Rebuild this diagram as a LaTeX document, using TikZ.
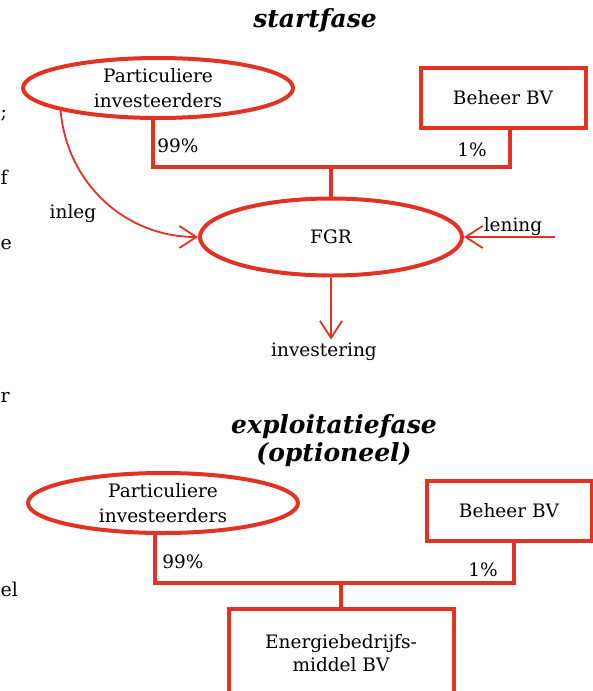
\documentclass[tikz,border=0pt]{standalone}
\usepackage{fontspec}
\setmainfont{DejaVu Serif}
\usetikzlibrary{positioning,arrows.meta,shapes.geometric}
\definecolor{chartred}{RGB}{225,50,35}

\begin{document}
\begin{tikzpicture}[
    x = 1pt, y = 1pt,
    > = {Straight Barb[length=17pt,width=22pt]},
    party/.style={ellipse, draw=chartred, line width=4pt, minimum width=270pt, minimum height=60pt, inner sep=0pt, align=center, font=\fontsize{18.5}{25}\selectfont},
    company/.style={rectangle, draw=chartred, line width=4pt, minimum width=165pt, minimum height=60pt, align=center, font=\fontsize{18.5}{23}\selectfont},
    share/.style={draw=chartred, line width=4pt},
    flow/.style={->, draw=chartred, line width=1.8pt},
    phase/.style={align=center, font=\fontsize{25}{28}\selectfont\bfseries\itshape},
    lbl/.style={font=\fontsize{18.5}{22}\selectfont},
    margintext/.style={anchor=west, inner sep=0pt, font=\fontsize{19}{22}\selectfont}
]
\clip (0,0) rectangle (593,-691);

% Start phase
\node[phase] (title1) at (315,-20) {startfase};
\node[party] (inv1) at (158,-88) {Particuliere\\investeerders};
\node[company] (beh1) at (503,-98) {Beheer BV};
\node[party, minimum width=262pt, minimum height=77pt] (fgr) at (331,-237) {FGR};
\node[lbl] (invest) at (324,-352) {investering};
\node[lbl] (inleg) at (73,-214) {inleg};
\coordinate (lensrc) at (555,-237);
\node[lbl] (lening) at (513,-227) {lening};

% Shares in the FGR
\coordinate (bar1) at (153,-167);
\coordinate (bar1e) at (510,-167);
\draw[share] (inv1.south -| bar1) |- (bar1e) -- (beh1.south -| bar1e);
\draw[share] (bar1 -| fgr) -- (fgr.north);
\node[lbl] (pct1a) at (178,-146) {99\%};
\node[lbl] (pct1b) at (472,-150) {1\%};

% Money flows
\draw[flow] (inv1.193) to[out=-85, in=180] (fgr.west);
\draw[flow] (lensrc) -- (fgr.east);
\draw[flow] (fgr.south) -- (fgr.south |- invest.north);

% Exploitation phase
\node[phase] (title2) at (334,-441) {exploitatiefase\\(optioneel)};
\node[party] (inv2) at (163,-503) {Particuliere\\investeerders};
\node[company] (beh2) at (509,-511) {Beheer BV};
\node[company, minimum width=225pt, minimum height=88pt] (enb) at (341,-653) {Energiebedrijfs-\\middel BV};

% Shares in the BV
\coordinate (bar2) at (155,-583);
\coordinate (bar2e) at (514,-583);
\draw[share] (inv2.south -| bar2) |- (bar2e) -- (beh2.south -| bar2e);
\draw[share] (bar2 -| enb) -- (enb.north);
\node[lbl] (pct2a) at (183,-562) {99\%};
\node[lbl] (pct2b) at (483,-570) {1\%};

% Body text at the left edge
\node[margintext] (m1) at (0.5,-116) {;};
\node[margintext] (m2) at (0.5,-177) {f};
\node[margintext] (m3) at (0.5,-245) {e};
\node[margintext] (m4) at (0.5,-397) {r};
\node[margintext] (m5) at (0.5,-589) {el};

\end{tikzpicture}
\end{document}
